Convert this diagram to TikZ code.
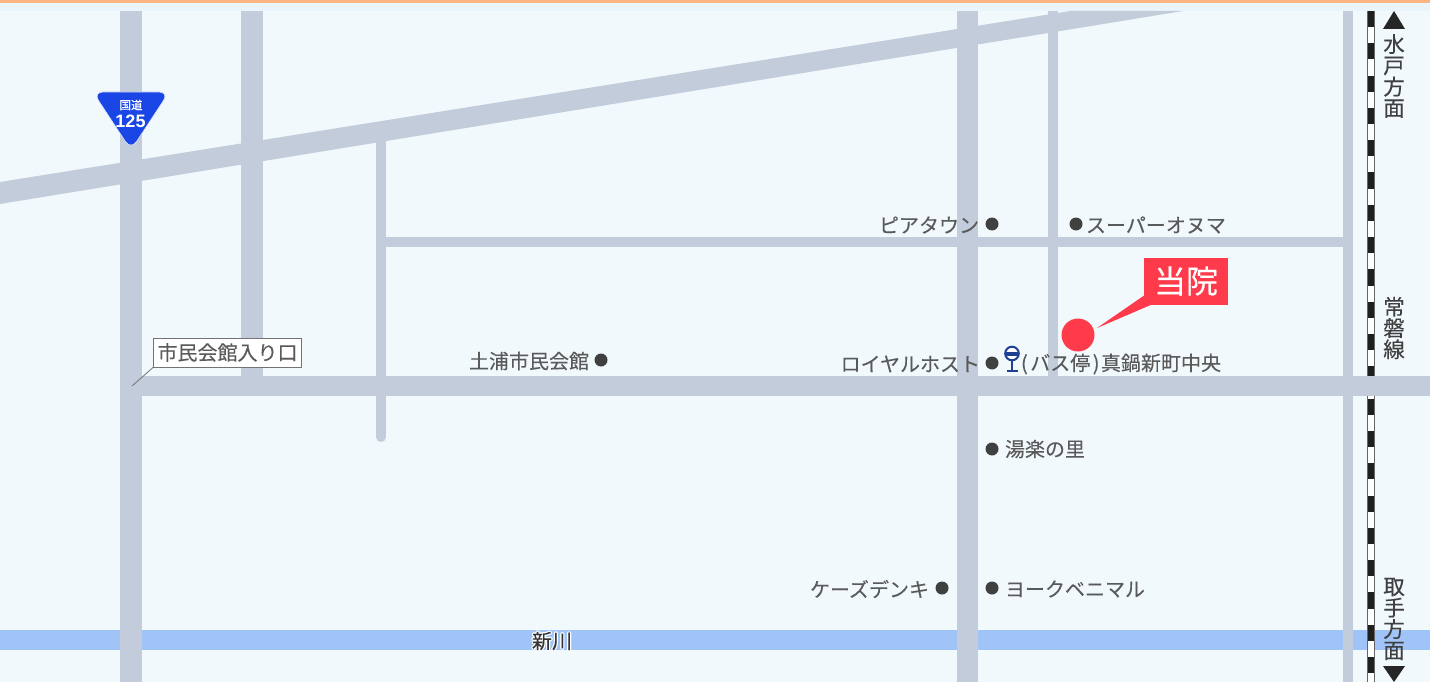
\documentclass[tikz,border=0pt]{standalone}
\usepackage{fontspec}
\usetikzlibrary{calc}
\setmainfont[FakeBold=0.12]{Noto Sans CJK JP}
\newfontfamily\numfont{Liberation Sans}
\definecolor{bg}{HTML}{F1F9FD}
\definecolor{band}{HTML}{EAF4FB}
\definecolor{topbar}{HTML}{FBB583}
\definecolor{road}{HTML}{C2CCDA}
\definecolor{river}{HTML}{A0C4F8}
\definecolor{ink}{HTML}{5A5A5A}
\definecolor{dark}{HTML}{404040}
\definecolor{red1}{HTML}{FF3B4B}
\definecolor{sign}{HTML}{1A46E6}
\definecolor{busblue}{HTML}{1F3F94}
\tikzset{
 x=1pt,y=-1pt,
 lab/.style={text=ink,font=\fontsize{20}{20}\selectfont,inner sep=0pt,outer sep=0pt},
 vlab/.style={text=dark,font=\fontsize{21.5}{21.3}\selectfont,inner sep=0pt,align=center},
 spot/.style={circle,fill=dark,minimum size=13pt,inner sep=0pt,draw=none},
 halo/.style={text=white,font=\fontsize{20}{20}\selectfont,inner sep=0pt},
}
\begin{document}
\begin{tikzpicture}
\useasboundingbox (0,0) rectangle (1430,682);
\fill[bg] (0,0) rectangle (1430,682);
\fill[band] (0,3) rectangle (1430,11);
\fill[topbar] (0,0) rectangle (1430,3);
% river
\fill[river] (0,630) rectangle (1430,650);
% roads
\fill[road] (0,182) -- (1070,11) -- (1183,11) -- (0,204) -- cycle;
\fill[road] (120,11) rectangle (142,682);
\fill[road] (241,11) rectangle (263,380);
\fill[road] (957,11) rectangle (978,682);
\fill[road] (1048,11) rectangle (1058,380);
\fill[road] (1343,11) rectangle (1353,682);
\fill[road] (381,237) rectangle (1343,247);
\draw[road,line width=10pt,line cap=round] (381,140) -- (381,437);
\fill[road] (376,130) rectangle (386,145);
\fill[road] (131,376) rectangle (1430,396);
% railway
\fill[white] (1367,11) rectangle (1375,682);
\foreach \k in {0,...,20}{
  \pgfmathsetmacro{\ya}{11+32.3*\k}
  \pgfmathsetmacro{\yb}{min(\ya+16.15,682)}
  \fill[black!88] (1367,\ya) rectangle (1375,\yb);
}
\draw[black!60,line width=1pt] (1367.5,11) -- (1367.5,682) (1374.5,11) -- (1374.5,682);
\fill[road] (1360,376) rectangle (1382,396);
% labels
\node[lab,anchor=east] (piatown) at (979,225) {ピアタウン};
\node[spot] (s1) at (992,224) {};
\node[spot] (s2) at (1076,224) {};
\node[lab,anchor=west] (super) at (1086,225) {スーパーオヌマ};
\node[lab,anchor=east] (shimin) at (589,361) {土浦市民会館};
\node[spot] (s3) at (601,360) {};
\node[lab,anchor=east] (royal) at (980,364) {ロイヤルホスト};
\node[spot] (s4) at (992,363) {};
\node[lab,anchor=west] (bus) at (1021,364) {(\kern2.5pt バス停\kern2.5pt)\kern1.5pt 真鍋新町中央};
\node[spot] (s5) at (992,449) {};
\node[lab,anchor=west] (yura) at (1005,449) {湯楽の里};
\node[lab,anchor=east] (ks) at (929,589) {ケーズデンキ};
\node[spot] (s6) at (942,588) {};
\node[spot] (s7) at (992,588) {};
\node[lab,anchor=west] (york) at (1005,589) {ヨークベニマル};
% bus icon
\draw[busblue,line width=2pt,fill=white] (1012,353.5) circle (6.8);
\fill[busblue] (1005,351.5) rectangle (1019,355.5);
\draw[busblue,line width=2pt] (1012,360) -- (1012,371) (1006.5,371) -- (1017.5,371);
% leader
\coordinate (lead) at (132,386);
\node[draw=black!55,fill=white,line width=1pt,text=ink,font=\fontsize{20}{20}\selectfont,inner sep=0pt,minimum width=148pt,minimum height=29pt] (iriguchi) at (227.5,352.5) {市民会館入り口};
\draw[black!55,line width=.8pt] (iriguchi.south west) -- (lead);
% clinic
\node[circle,fill=red1,minimum size=33pt,inner sep=0pt] (clinic) at (1078,335) {};
\node[fill=red1,text=white,font=\fontsize{32}{32}\selectfont,inner sep=0pt,minimum width=84pt,minimum height=47pt] (tou) at (1186,281) {当院};
\fill[red1] (tou.south west) ++(0,-9) -- (1097,328) -- (1153,304) -- (tou.south west) -- cycle;
% river label
\foreach \a in {0,45,...,315}{
  \node[halo] at ($(552,641)+(\a:1.2)$) {新川};
}
\node[text=black!80,font=\fontsize{20}{20}\selectfont,inner sep=0pt] (shinkawa) at (552,641) {新川};
% sign
\fill[sign,draw=white!85!sign,line width=.6pt,rounded corners=10pt] (93,92) -- (169,92) -- (131,150) -- cycle;
\node[text=white,font=\fontsize{11.5}{11.5}\selectfont,inner sep=0pt] (kokudo) at (131,105) {国道};
\node[text=white,font=\numfont\bfseries\fontsize{18}{18}\selectfont,inner sep=0pt] (n125) at (130.5,121) {125};
% vertical labels
\fill[black!85] (1394,11) -- (1405,29) -- (1383,29) -- cycle;
\node[vlab] (mito) at (1394,76) {水\\戸\\方\\面};
\node[vlab] (joban) at (1394,328) {常\\磐\\線};
\node[vlab] (toride) at (1394,619) {取\\手\\方\\面};
\fill[black!85] (1394,682) -- (1405,666) -- (1383,666) -- cycle;
\end{tikzpicture}
\end{document}
